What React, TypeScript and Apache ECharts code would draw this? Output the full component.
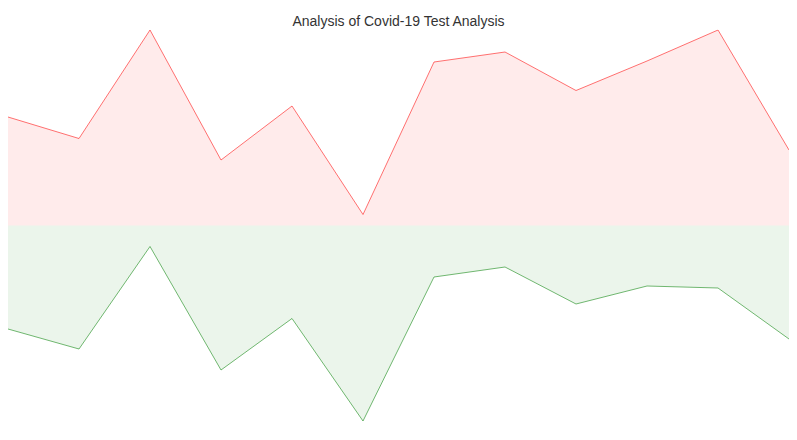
import { useEffect, useRef } from 'react';
import * as echarts from 'echarts';

const periods = ['P1', 'P2', 'P3', 'P4', 'P5', 'P6', 'P7', 'P8', 'P9', 'P10', 'P11', 'P12'];
const positiveTests = [2170, 1740, 3910, 1310, 2390, 220, 3270, 3470, 2700, 3290, 3910, 1510];
const negativeTests = [2070, 2470, 420, 2890, 1860, 3910, 1030, 830, 1570, 1210, 1250, 2270];

export default function App() {
  const chartRef = useRef<HTMLDivElement>(null);

  useEffect(() => {
    if (!chartRef.current) return;
    const chart = echarts.init(chartRef.current, undefined, { renderer: 'svg' });
    const limit = Math.max(...positiveTests, ...negativeTests);

    chart.setOption({
      animation: false,
      title: {
        text: 'Analysis of Covid-19 Test Analysis',
        left: 'center',
        top: 1,
        textStyle: { fontFamily: 'Arial, "Liberation Sans"', fontSize: 14, fontWeight: 'normal', color: '#333' },
      },
      grid: { left: 0, right: 0, top: 22, bottom: 11 },
      xAxis: {
        type: 'category',
        data: periods,
        boundaryGap: false,
        show: false,
      },
      yAxis: {
        type: 'value',
        min: -limit,
        max: limit,
        show: false,
        splitLine: { show: false },
      },
      series: [
        {
          name: 'Positive',
          type: 'line',
          symbol: 'none',
          lineStyle: { color: 'rgba(255,0,0,0.55)', width: 1 },
          areaStyle: { color: 'rgba(255,0,0,0.11)', origin: 0 },
          data: positiveTests,
        },
        {
          name: 'Negative',
          type: 'line',
          symbol: 'none',
          lineStyle: { color: 'rgba(0,128,0,0.55)', width: 1 },
          areaStyle: { color: 'rgba(0,128,0,0.11)', origin: 0 },
          data: negativeTests.map((v) => -v),
        },
      ],
    });

    return () => chart.dispose();
  }, []);

  return <div ref={chartRef} style={{ width: '100%', height: 424 }} />;
}
